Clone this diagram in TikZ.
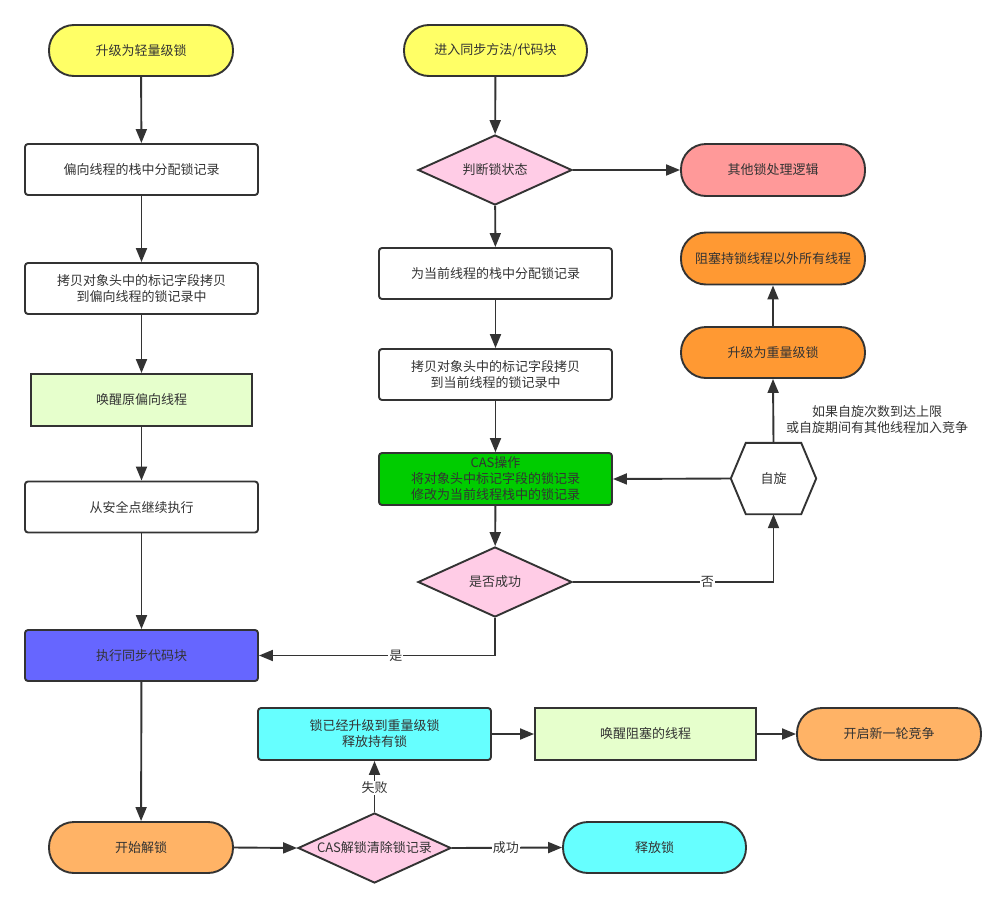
\documentclass[tikz,border=0pt]{standalone}
\usepackage{fontspec}
\setmainfont{Noto Sans CJK SC}
\usetikzlibrary{shapes.geometric,arrows.meta}

\definecolor{ink}{HTML}{333333}
\definecolor{cyellow}{HTML}{FFFF66}
\definecolor{cpink}{HTML}{FFCCE6}
\definecolor{cred}{HTML}{FF9999}
\definecolor{corange}{HTML}{FF9933}
\definecolor{clorange}{HTML}{FFB366}
\definecolor{cgreen}{HTML}{00CC00}
\definecolor{cblue}{HTML}{6666FF}
\definecolor{ccyan}{HTML}{66FFFF}
\definecolor{clgreen}{HTML}{E6FFCC}

\tikzset{
  base/.style={draw=ink, line width=1.9pt, text=ink, align=center,
    font=\fontsize{13}{16}\selectfont, inner sep=0pt},
  stadium/.style={base, rectangle, rounded corners=25pt,
    minimum width=184pt, minimum height=51pt},
  box/.style={base, rectangle, rounded corners=3pt,
    minimum width=233pt, minimum height=51pt, fill=white},
  flatbox/.style={base, rectangle, minimum width=221pt, minimum height=52pt},
  decision/.style={base, diamond, aspect=2.2, fill=cpink,
    minimum width=154pt, minimum height=70pt},
  flow/.style={draw=ink, line width=1.9pt, -{Triangle[length=14pt,width=11pt]}},
  elabel/.style={fill=white, text=ink, inner sep=1pt,
    font=\fontsize{13}{16}\selectfont},
}

\begin{document}
\begin{tikzpicture}[x=1pt, y=-1pt]
\useasboundingbox (0,0) rectangle (1006,908);

% left column: biased lock revocation
\node[stadium, fill=cyellow] (up) at (141,50.5) {升级为轻量级锁};
\node[box] (balloc) at (141.5,169.5) {偏向线程的栈中分配锁记录};
\node[box] (bcopy) at (141.5,288.5) {拷贝对象头中的标记字段拷贝\\到偏向线程的锁记录中};
\node[flatbox, fill=clgreen] (wake) at (141.5,400) {唤醒原偏向线程};
\node[box] (resume) at (141.5,507) {从安全点继续执行};
\node[box, fill=cblue] (exec) at (141.5,655.5) {执行同步代码块};
\node[stadium, fill=clorange] (unlock) at (141,847.5) {开始解锁};

% middle column: lightweight lock acquisition
\node[stadium, fill=cyellow, minimum width=183pt] (enter) at (495.5,50.5) {进入同步方法/代码块};
\node[decision] (state) at (495,170) {判断锁状态};
\node[box] (alloc) at (495.5,273.5) {为当前线程的栈中分配锁记录};
\node[box] (copy) at (495.5,374.5) {拷贝对象头中的标记字段拷贝\\到当前线程的锁记录中};
\node[box, fill=cgreen, minimum height=52pt] (cas) at (495.5,479) {CAS操作\\将对象头中标记字段的锁记录\\修改为当前线程栈中的锁记录};
\node[decision] (ok) at (495,582) {是否成功};

% right column: spinning and inflation
\node[stadium, fill=cred, minimum height=52pt] (other) at (773,170) {其他锁处理逻辑};
\node[stadium, fill=corange, minimum height=52pt] (block) at (773,258.5) {阻塞持锁线程以外所有线程};
\node[stadium, fill=corange] (heavy) at (773,352.5) {升级为重量级锁};
\node[minimum width=85pt, minimum height=71pt, inner sep=0pt] (spin) at (773.5,478.5) {};
\draw[draw=ink, line width=1.9pt, fill=white]
  (spin.west) -- ([xshift=15pt]spin.north west) -- ([xshift=-15pt]spin.north east)
  -- (spin.east) -- ([xshift=-15pt]spin.south east) -- ([xshift=15pt]spin.south west) -- cycle;
\node[text=ink, font=\fontsize{13}{16}\selectfont] at (spin.center) {自旋};
\node[text=ink, align=center, font=\fontsize{13}{16}\selectfont] (limit) at (877,420)
  {如果自旋次数到达上限\\或自旋期间有其他线程加入竞争};

% bottom: unlocking
\node[box, fill=ccyan, minimum height=52pt] (inflated) at (374.5,734) {锁已经升级到重量级锁\\释放持有锁};
\node[flatbox, fill=clgreen] (wakeblk) at (645.5,734) {唤醒阻塞的线程};
\node[stadium, fill=clorange, minimum height=52pt] (newround) at (889,734) {开启新一轮竞争};
\node[decision, minimum width=153pt] (casun) at (374.5,848) {CAS解锁清除锁记录};
\node[stadium, fill=ccyan, minimum width=183pt] (release) at (654.5,847.5) {释放锁};

% connectors
\draw[flow] (up) -- (balloc);
\draw[flow] (balloc) -- (bcopy);
\draw[flow] (bcopy) -- (wake);
\draw[flow] (wake) -- (resume);
\draw[flow] (resume) -- (exec);
\draw[flow] (exec) -- (unlock);

\draw[flow] (enter) -- (state);
\draw[flow] (state) -- (alloc);
\draw[flow] (alloc) -- (copy);
\draw[flow] (copy) -- (cas);
\draw[flow] (cas) -- (ok);
\draw[flow] (state.east) -- (other.west);

\draw[flow] (ok.south) |- node[elabel, pos=0.71] {是} (exec.east);
\draw[flow] (ok.east) -| node[elabel, pos=0.335] {否} (spin.south);
\draw[flow] (spin.west) -- (cas.east);
\draw[flow] (spin.north) -- (heavy.south);
\draw[flow] (heavy.north) -- (block.south);

\draw[flow] (unlock.east) -- (casun.west);
\draw[flow] (casun.north) -- node[elabel, pos=0.47] {失败} (inflated.south);
\draw[flow] (casun.east) -- node[elabel, pos=0.49] {成功} (release.west);
\draw[flow] (inflated.east) -- (wakeblk.west);
\draw[flow] (wakeblk.east) -- (newround.west);
\end{tikzpicture}
\end{document}
